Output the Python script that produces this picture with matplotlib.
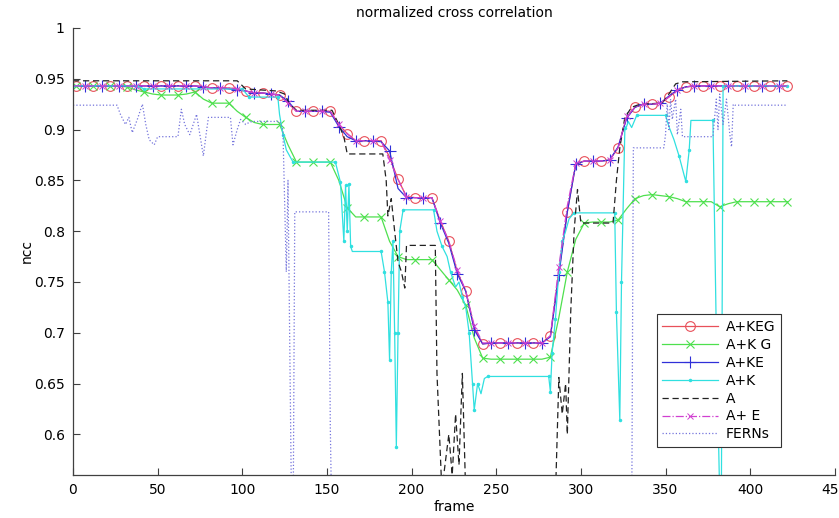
import matplotlib
matplotlib.use('Agg')
import matplotlib.pyplot as plt
import numpy as np

plt.rcParams['font.family'] = ['DejaVu Sans']

# frames used for the marked curves (0, then every 5 frames from 2)
frames = [0] + list(range(2, 423, 5))

keg_ncc = [
    .943, .943, .943, .943, .943, .943, .943, .943, .943, .943,
    .943, .943, .943, .943, .943, .943, .942, .941, .941, .941,
    .940, .938, .936, .936, .935, .934, .926, .918, .918, .918,
    .918, .918, .905, .896, .889, .889, .889, .889, .873, .851,
    .834, .833, .833, .833, .810, .790, .760, .741, .705, .689,
    .690, .690, .690, .690, .690, .690, .690, .697, .760, .819,
    .866, .869, .869, .869, .870, .882, .912, .922, .925, .925,
    .926, .932, .939, .942, .943, .943, .943, .943, .943, .943,
    .943, .943, .943, .943, .943, .943,
]
kg_ncc = [
    .943, .943, .943, .943, .943, .943, .943, .942, .939, .937,
    .935, .934, .934, .934, .935, .937, .930, .926, .926, .926,
    .918, .912, .907, .905, .905, .905, .885, .868, .868, .868,
    .868, .868, .850, .823, .814, .814, .814, .814, .790, .775,
    .772, .772, .772, .772, .762, .752, .742, .727, .695, .675,
    .674, .674, .674, .674, .674, .674, .674, .676, .715, .760,
    .792, .808, .809, .809, .809, .811, .822, .832, .835, .836,
    .835, .834, .832, .829, .829, .829, .829, .824, .827, .829,
    .829, .829, .829, .829, .829, .829,
]
ke_ncc = [
    .943, .943, .943, .943, .943, .943, .943, .943, .943, .943,
    .943, .943, .943, .943, .943, .943, .942, .941, .941, .940,
    .939, .938, .936, .936, .935, .934, .928, .918, .918, .918,
    .918, .917, .903, .893, .889, .889, .889, .888, .879, .842,
    .833, .833, .833, .833, .808, .788, .758, .741, .703, .689,
    .690, .690, .690, .690, .690, .690, .690, .696, .757, .819,
    .866, .869, .869, .869, .870, .883, .911, .922, .925, .925,
    .926, .933, .939, .942, .943, .943, .943, .943, .943, .943,
    .943, .943, .943, .943, .943, .943,
]
ae_ncc = [
    .943, .943, .943, .943, .943, .943, .943, .943, .943, .943,
    .943, .943, .943, .943, .943, .943, .942, .941, .941, .941,
    .940, .938, .936, .936, .935, .934, .926, .918, .918, .918,
    .918, .918, .905, .896, .889, .889, .889, .889, .870, .851,
    .834, .833, .833, .833, .810, .790, .762, .741, .707, .690,
    .690, .690, .690, .690, .690, .690, .690, .697, .765, .825,
    .867, .869, .869, .869, .870, .882, .913, .922, .925, .925,
    .926, .932, .939, .942, .943, .943, .943, .943, .943, .943,
    .943, .943, .943, .943, .943, .943,
]

# A+K (irregular breakpoints)
k_frames = [0, 38, 42, 100, 104, 121, 122, 124, 126, 130, 155, 158, 160, 161,
            162, 163, 164, 165, 182, 184, 186, 187, 188, 189, 190, 191, 192,
            193, 195, 213, 215, 218, 221, 223, 226, 228, 230, 232, 234, 236,
            237, 239, 241, 243, 245, 281, 282, 283, 285, 287, 289, 291, 293,
            296, 320, 321, 323, 324, 326, 327, 328, 330, 333, 350, 352, 355,
            358, 361, 362, 364, 365, 378, 380, 382, 383, 384, 422]
k_ncc = [.943, .943, .940, .940, .932, .932, .915, .895, .880, .868, .868, .848,
         .790, .845, .800, .846, .785, .780, .780, .760, .730, .673, .760, .790,
         .700, .588, .700, .800, .821, .821, .800, .785, .775, .760, .745, .750,
         .735, .725, .700, .650, .624, .650, .640, .655, .657, .657, .642, .680,
         .714, .760, .790, .800, .812, .818, .818, .720, .614, .750, .902, .903,
         .908, .902, .914, .914, .903, .890, .874, .855, .849, .880, .909, .909,
         .700, .540, .540, .943, .943]

# A (black dashed)
a_frames = [0, 97, 102, 120, 125, 128, 132, 153, 157, 160, 162, 183, 185, 186,
            188, 190, 192, 194, 196, 197, 214, 215, 218, 219, 222, 224, 226,
            228, 230, 232, 285, 287, 289, 291, 292, 293, 294, 296, 298, 300,
            319, 321, 323, 326, 330, 335, 348, 352, 356, 360, 422]
a_ncc = [.948, .948, .940, .938, .935, .925, .919, .919, .905, .893, .876, .876,
         .850, .815, .832, .800, .770, .760, .744, .786, .786, .660, .540, .560,
         .600, .560, .620, .570, .660, .540, .540, .656, .620, .650, .600, .660,
         .720, .800, .841, .808, .808, .850, .882, .912, .922, .925, .926, .935,
         .945, .947, .948]

# FERNs (dotted)
f_frames = [0, 26, 28, 31, 33, 35, 38, 41, 43, 45, 48, 50, 62, 64, 66, 69, 71,
            73, 77, 79, 80, 93, 94.5, 97, 99, 102, 104, 106, 122, 124, 126, 127,
            129, 130, 131, 151, 152, 153, 330, 331, 349, 350, 351, 352, 353, 354,
            356, 357, 359, 360, 378, 380, 381, 382, 384, 386, 388, 389, 390, 391,
            422]
f_ncc = [.924, .924, .915, .905, .912, .897, .910, .925, .905, .890, .885, .893,
         .893, .920, .905, .895, .905, .915, .874, .900, .912, .912, .885, .900,
         .910, .905, .907, .908, .908, .900, .760, .850, .540, .500, .819, .819,
         .607, .500, .500, .882, .882, .895, .925, .900, .930, .910, .930, .895,
         .920, .893, .893, .930, .900, .935, .905, .930, .895, .883, .925, .924,
         .924]

fig = plt.figure(figsize=(8.39, 5.18), dpi=100)
ax = fig.add_axes([0.087, 0.083, 0.908, 0.863])

ax.plot(frames, keg_ncc, '-', color='#e8505a', lw=0.9, marker='o', ms=7,
        mfc='none', mew=0.8, markevery=(1, 2), label='A+KEG')
ax.plot(frames, kg_ncc, '-', color='#4ee04e', lw=0.9, marker='x', ms=6,
        mew=0.8, markevery=(1, 2), label='A+K G')
ax.plot(frames, ke_ncc, '-', color='#3030d8', lw=0.9, marker='+', ms=9,
        mew=0.8, markevery=(2, 2), label='A+KE')
ax.plot(k_frames, k_ncc, '-', color='#30e0e0', lw=0.9, marker='.', ms=3,
        markevery=0.04, label='A+K')
ax.plot(a_frames, a_ncc, '--', color='#222222', lw=0.9, dashes=(5, 3),
        label='A')
ax.plot(frames, ae_ncc, '-.', color='#d040d0', lw=0.9, marker='x', ms=5,
        mew=0.7, markevery=(2, 2), label='A+ E')
ax.plot(f_frames, f_ncc, ':', color='#7474dc', lw=0.9, label='FERNs')

ax.set_xlim(0, 450)
ax.set_ylim(0.56, 1.0)
ax.set_xticks(np.arange(0, 451, 50))
ax.set_yticks([0.6, 0.65, 0.7, 0.75, 0.8, 0.85, 0.9, 0.95, 1])
ax.set_yticklabels(['0.6', '0.65', '0.7', '0.75', '0.8', '0.85', '0.9',
                    '0.95', '1'])
ax.spines['top'].set_visible(False)
ax.spines['right'].set_visible(False)
for s in ('left', 'bottom'):
    ax.spines[s].set_color('#404040')
    ax.spines[s].set_linewidth(0.9)
ax.tick_params(direction='in', length=5, width=0.8, color='#404040',
               labelsize=10, pad=6)

ax.set_title('normalized cross correlation', fontsize=10, pad=8)
ax.set_xlabel('frame', fontsize=10, labelpad=2)
ax.set_ylabel('ncc', fontsize=10, labelpad=0)

leg = ax.legend(loc='lower left', bbox_to_anchor=(0.766, 0.063),
                borderaxespad=0, fontsize=10, handlelength=4.0,
                labelspacing=0.28, fancybox=False, framealpha=1,
                edgecolor='#333333', borderpad=0.4, handletextpad=0.6)
leg.get_frame().set_linewidth(0.8)

fig.savefig('out.png', dpi=100)
